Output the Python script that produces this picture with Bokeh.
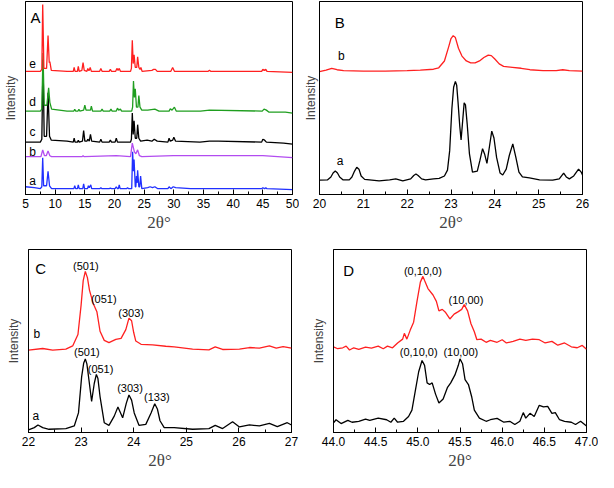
from bokeh.plotting import figure
from bokeh.layouts import column, row
from bokeh.models import Range1d, SingleIntervalTicker, FixedTicker, NumeralTickFormatter
from bokeh.core.properties import value
from bokeh.embed import file_html
from bokeh.resources import INLINE

# ---------------- Panel A data (2theta, intensity with offsets) ----------------
a_e_x = [5, 7.5, 7.75, 7.9, 8.1, 8.55, 8.8, 9.0, 9.1, 9.35, 12, 13.05, 13.2, 13.35, 13.75, 13.9, 14.05, 14.5, 14.7, 14.9,
         15.35, 15.5, 15.65, 15.75, 15.9, 16.1, 17.5, 17.7, 17.9, 19.1, 19.3, 19.5, 20.2, 20.4, 20.6, 20.8, 21.0, 22.7,
         22.85, 23.0, 23.15, 23.3, 23.5, 23.75, 23.9, 24.1, 24.3, 24.45, 24.65, 26.3, 26.6, 26.9, 27.2, 29.5, 29.8, 30.1,
         35.8, 36.0, 36.2, 44.8, 45.0, 45.25, 45.5, 45.7, 50]
a_e_y = [127, 127, 129, 196, 130, 130, 164, 136, 137, 128, 127, 127, 131, 127, 127, 132, 127, 128, 136, 128,
         127, 130, 128, 128, 131, 127, 127, 130, 127, 127, 129, 127, 127, 130, 128, 130, 127, 127,
         130, 159, 135, 144, 131, 131, 142, 131, 129, 131, 127, 128, 129, 129, 127, 127, 131, 127,
         127, 128, 127, 127, 129, 128, 129, 127, 126]

a_d_x = [5, 7.5, 7.75, 7.95, 8.15, 8.6, 8.9, 9.1, 9.4, 12, 13.15, 13.3, 13.45, 13.85, 14.0, 14.15, 14.8, 15.0, 15.2,
         15.95, 16.1, 16.3, 17.7, 17.9, 18.1, 19.2, 19.4, 19.6, 20.3, 20.5, 20.7, 21.0, 21.2, 22.9, 23.05, 23.2, 23.35,
         23.5, 23.7, 23.95, 24.1, 24.3, 24.6, 25.6, 26.8, 27.5, 29.2, 29.4, 29.7, 30.1, 30.4, 34.5, 36.0, 44.9, 45.2,
         45.6, 46.0, 48.8, 50]
a_d_y = [86, 86, 88, 146, 92, 92, 110, 95, 88, 86, 86, 88, 86, 86, 88, 86, 87, 92, 87,
         87, 91, 86, 86, 88, 86, 86, 88, 86, 86, 89, 87, 88, 86, 86, 90, 117, 100,
         109, 90, 90, 102, 90, 87, 87, 88, 86, 86, 88.5, 87, 90, 86, 86, 87, 86, 88,
         87, 85, 85, 84]

a_c_x = [5, 7.5, 7.75, 7.95, 8.15, 8.55, 8.8, 9.05, 9.35, 12, 13.05, 13.2, 13.35, 13.75, 13.9, 14.05, 14.6, 14.8, 15.0,
         15.35, 15.5, 15.75, 15.95, 16.15, 17.5, 17.7, 17.9, 19.1, 19.3, 19.5, 20.1, 20.3, 20.5, 22.7, 22.85, 23.0,
         23.15, 23.3, 23.5, 23.75, 23.9, 24.1, 24.4, 25.5, 26.3, 26.7, 27.2, 29.0, 29.2, 29.4, 29.8, 30.0, 30.3, 34.4,
         36.0, 37.5, 44.8, 45.0, 45.3, 45.6, 48.5, 50]
a_c_y = [54, 54, 57, 139, 60, 60, 105, 60, 56, 55, 54, 58, 54, 54, 56, 54, 55, 66, 55,
         55, 57, 55, 62, 55, 54, 57, 54, 54, 56, 54, 54, 58, 54, 54, 57, 84,
         62, 76, 58, 58, 72, 58, 55, 56, 55, 57, 55, 54, 58, 55, 56, 59, 55, 54,
         55, 55, 54, 57, 56, 54, 53, 52]

a_b_x = [5, 7.6, 7.9, 8.2, 8.5, 8.8, 9.1, 9.4, 14.5, 14.7, 14.9, 20.3, 22.7, 23.0, 23.35, 23.6, 23.9, 24.2, 24.6,
         29.9, 45.0, 50]
a_b_y = [39, 39, 46, 40, 40, 45, 40, 39, 39, 40, 39, 40, 39, 53, 44, 42, 46, 40, 39,
         40, 40, 38]

a_a_x = [5, 6.5, 7.5, 7.75, 7.9, 8.05, 8.55, 8.8, 9.05, 9.4, 12, 13.15, 13.3, 13.45, 13.75, 13.9, 14.05, 14.65, 14.8,
         14.95, 15.45, 15.6, 15.75, 16.0, 16.15, 17.5, 17.7, 17.9, 19.1, 19.3, 19.5, 20.1, 20.3, 20.5, 20.65, 20.8,
         20.95, 22.0, 22.2, 22.4, 22.9, 23.05, 23.2, 23.3, 23.5, 23.6, 23.7, 23.8, 23.9, 24.1, 24.25, 24.4, 24.6,
         25.6, 26.0, 26.4, 26.8, 27.3, 29.0, 29.2, 29.5, 29.9, 30.3, 32.8, 34.4, 36.0, 37.5, 44.8, 45.0, 45.3, 45.5,
         45.7, 50]
a_a_y = [8, 7, 6, 8, 38, 9, 9, 24, 9, 6, 6, 6, 9, 6, 6, 10, 6, 6, 11,
         6, 6, 9, 7, 10, 6, 6, 7, 6, 6, 6.5, 6, 6, 8, 6, 6, 10,
         6, 6, 7, 6, 6, 44, 24, 36, 8, 8, 19, 12, 25, 8, 8, 19, 6,
         7, 8, 7, 8, 6, 6, 8, 6, 8, 7, 6, 6, 6, 6, 6, 7, 6, 7,
         6, 5]

a_labels = ["e", "d", "c", "b", "a"]
a_label_x = [6.2, 6.2, 6.2, 6.2, 6.2]
a_label_y = [135, 95, 64, 44, 14]

# ---------------- Panel B data ----------------
b_b_x = [20.0, 20.15, 20.28, 20.4, 20.55, 21.0, 21.5, 22.0, 22.3, 22.6, 22.72, 22.85, 22.95, 23.0, 23.05, 23.1, 23.17,
         23.25, 23.35, 23.45, 23.55, 23.65, 23.75, 23.85, 23.92, 24.0, 24.1, 24.2, 24.4, 24.6, 24.8, 25.1, 25.4, 25.55,
         25.7, 26.0]
b_b_y = [126, 127.5, 129.5, 128, 127, 126.5, 126.5, 127, 127.5, 128.5, 130, 137, 152, 160, 163, 161, 150,
         142, 137, 135, 135, 137, 140.5, 143, 142.5, 139, 134, 131.5, 130.5, 129.5, 128, 127, 127, 128,
         127, 126.5]

b_a_x = [20.0, 20.18, 20.26, 20.31, 20.36, 20.41, 20.46, 20.54, 20.68, 20.74, 20.8, 20.85, 20.9, 20.95, 21.03, 21.36,
         21.6, 21.74, 21.9, 22.08, 22.15, 22.2, 22.25, 22.33, 22.42, 22.6, 22.73, 22.85, 22.92, 22.97, 23.02, 23.06,
         23.1, 23.13, 23.16, 23.2, 23.23, 23.26, 23.3, 23.33, 23.37, 23.42, 23.49, 23.6, 23.66, 23.72, 23.77, 23.82,
         23.88, 23.93, 23.98, 24.04, 24.12, 24.18, 24.26, 24.33, 24.41, 24.48, 24.55, 24.63, 24.79, 25.02, 25.32,
         25.47, 25.57, 25.63, 25.7, 25.8, 25.91, 25.97, 26.0]
b_a_y = [14.7, 15, 18, 22, 24, 22, 18, 15, 15, 18, 24, 28, 26, 19, 15.5, 14,
         15, 16, 14, 16, 19.5, 21, 19.5, 16, 15, 16, 16.5, 19, 25, 45, 88, 110,
         116, 112, 95, 70, 56, 72, 94, 92, 72, 42, 23, 24, 35, 47, 41, 32,
         50, 65, 58, 38, 22, 20, 26, 40, 52, 38, 23, 18, 17, 15, 14.7,
         16, 22, 18, 16, 19, 26, 23, 20]

b_labels = ["b", "a"]
b_label_x = [20.5, 20.47]
b_label_y = [142, 34]

# ---------------- Panel C data ----------------
c_b_x = [22.0, 22.27, 22.46, 22.71, 22.84, 22.94, 23.0, 23.04, 23.08, 23.12, 23.16, 23.23, 23.3, 23.36, 23.44, 23.53,
         23.66, 23.76, 23.85, 23.91, 23.96, 24.0, 24.04, 24.14, 24.36, 24.61, 24.77, 25.12, 25.43, 25.55, 25.69,
         26.01, 26.2, 26.39, 26.58, 26.71, 26.84, 27.0]
c_b_y = [84, 85.7, 84, 85, 88.3, 100, 130, 155, 164.3, 158, 145, 131.7, 123.3, 103.3, 94, 91.7,
         95, 96, 105, 116.7, 114, 102, 93.3, 90, 89.3, 88, 87.3, 85, 84.3, 87.3, 84.7,
         85, 86.7, 86, 88.3, 86, 87.7, 86]

c_a_x = [22.0, 22.11, 22.18, 22.27, 22.39, 22.71, 22.87, 22.95, 23.01, 23.05, 23.08, 23.11, 23.15, 23.2, 23.25, 23.29,
         23.32, 23.36, 23.44, 23.53, 23.63, 23.7, 23.79, 23.86, 23.91, 23.96, 24.01, 24.1, 24.23, 24.33, 24.4, 24.45,
         24.5, 24.58, 24.77, 25.12, 25.43, 25.55, 25.69, 25.88, 26.01, 26.2, 26.39, 26.58, 26.73, 26.92, 27.0]
c_a_y = [2.7, 5, 7.7, 5, 3.3, 4, 6.7, 20, 56.7, 71, 75, 70, 53.3, 31.7, 50, 59.3,
         55, 36.7, 10, 7.3, 16.7, 26, 15, 30, 38.3, 33, 20, 7.3, 8.3, 20, 29.3, 24,
         12, 5, 5, 3.3, 4, 7.3, 4, 11, 5.7, 7.7, 6.7, 9.3, 6, 10, 7.7]

c_peak_labels = ["(501)", "(051)", "(303)", "(501)", "(051)", "(303)", "(133)"]
c_peak_x = [23.09, 23.43, 23.95, 23.11, 23.37, 23.93, 24.44]
c_peak_y = [170, 136, 121.7, 81.7, 65, 45, 36]
c_labels = ["b", "a"]
c_label_x = [22.16, 22.14]
c_label_y = [100.7, 17.3]

# ---------------- Panel D data ----------------
d_b_x = [44.0, 44.05, 44.11, 44.15, 44.19, 44.24, 44.3, 44.38, 44.45, 44.53, 44.59, 44.64, 44.7, 44.76, 44.82, 44.84,
         44.87, 44.91, 44.95, 44.99, 45.03, 45.06, 45.08, 45.12, 45.18, 45.22, 45.25, 45.29, 45.33, 45.38, 45.43,
         45.48, 45.52, 45.55, 45.59, 45.63, 45.67, 45.7, 45.75, 45.81, 45.86, 45.94, 46.0, 46.05, 46.13, 46.21,
         46.28, 46.36, 46.44, 46.51, 46.59, 46.66, 46.74, 46.82, 46.89, 46.95, 47.0]
d_b_y = [89.3, 87.3, 88.3, 90, 86, 88.3, 86.7, 89, 88, 90, 87.3, 90, 88.3, 93.3, 97.3, 103.3,
         97.3, 106.7, 115, 136.7, 156.7, 162.7, 158.3, 150, 143.3, 136.7, 126.7, 128.3, 125, 118.3, 123.3,
         126, 128.3, 133.3, 126.7, 113.3, 105, 96.7, 97.3, 94, 96, 94, 96.7, 93.3, 95, 97.3,
         96, 97.3, 96.7, 93.3, 95, 91, 93.3, 89.3, 88.3, 90.7, 86.7]

d_a_x = [44.0, 44.03, 44.09, 44.17, 44.22, 44.3, 44.38, 44.43, 44.53, 44.63, 44.68, 44.72, 44.76, 44.83, 44.89, 44.93,
         44.97, 45.01, 45.05, 45.08, 45.11, 45.14, 45.17, 45.21, 45.25, 45.3, 45.35, 45.39, 45.44, 45.48, 45.5,
         45.53, 45.56, 45.6, 45.64, 45.67, 45.73, 45.81, 45.86, 45.94, 46.02, 46.09, 46.15, 46.21, 46.25, 46.28,
         46.33, 46.38, 46.44, 46.49, 46.54, 46.59, 46.63, 46.68, 46.74, 46.82, 46.87, 46.93, 47.0]
d_a_y = [10, 13.3, 9.3, 12.7, 10.7, 11.7, 14, 12.7, 15, 13.3, 10.7, 15, 10.7, 11.7, 16.7, 23.3,
         43.3, 63.3, 75, 70, 51.7, 50, 51.7, 40, 30.7, 35, 46.7, 51.7, 60, 70, 76.7,
         71.7, 55, 50, 36.7, 23.3, 15, 11.7, 13.3, 14.7, 10.7, 11.7, 8.3, 11.7, 20.7, 15,
         20, 16.7, 28.3, 26.7, 27.3, 20, 20.7, 13.3, 11.7, 10.7, 8.3, 11.7, 6.7]

d_peak_labels = ["(0,10,0)", "(10,00)", "(0,10,0)", "(10,00)"]
d_peak_x = [45.06, 45.57, 45.01, 45.51]
d_peak_y = [168.3, 138.3, 84, 84]

panel_letters = ["A", "B", "C", "D"]

RED = "#ff2020"
GREEN = "#1f9e1f"
BLACK = "#000000"
VIOLET = "#b24cf0"
BLUE = "#2030ff"

SANS = "Liberation Sans"
SERIF = "Liberation Serif"


def make_panel(w, h, xr, yr, bl, br, bt, bb, interval, fmt=None, ystandoff=8):
    p = figure(width=w, height=h, x_range=Range1d(*xr), y_range=Range1d(*yr),
               output_backend="svg", toolbar_location=None,
               min_border_left=bl, min_border_right=br, min_border_top=bt, min_border_bottom=bb)
    p.xgrid.visible = False
    p.ygrid.visible = False
    p.outline_line_color = "black"
    p.outline_line_width = 1
    p.outline_line_alpha = 1.0
    p.xaxis.ticker = SingleIntervalTicker(interval=interval, num_minor_ticks=2)
    if fmt:
        p.xaxis.formatter = NumeralTickFormatter(format=fmt)
    p.xaxis.major_tick_in = 5
    p.xaxis.major_tick_out = 0
    p.xaxis.minor_tick_in = 3
    p.xaxis.minor_tick_out = 0
    p.xaxis.major_label_standoff = 4
    p.xaxis.major_label_text_font = SANS
    p.xaxis.major_label_text_font_size = "12px"
    p.xaxis.major_label_text_color = "black"
    p.xaxis.axis_label = "2θ°"
    p.xaxis.axis_label_text_font = SERIF
    p.xaxis.axis_label_text_font_style = "normal"
    p.xaxis.axis_label_text_font_size = "17px"
    p.xaxis.axis_label_text_line_height = 1.0
    p.xaxis.axis_label_standoff = 2
    p.xaxis.axis_line_color = "black"
    p.xaxis.major_tick_line_color = "black"
    p.xaxis.minor_tick_line_color = "black"
    p.yaxis.ticker = FixedTicker(ticks=[])
    p.yaxis.major_tick_line_color = None
    p.yaxis.minor_tick_line_color = None
    p.yaxis.major_label_text_font_size = "0px"
    p.yaxis.axis_label = "Intensity"
    p.yaxis.axis_label_text_font = SANS
    p.yaxis.axis_label_text_font_style = "normal"
    p.yaxis.axis_label_text_font_size = "12px"
    p.yaxis.axis_label_standoff = ystandoff
    p.yaxis.axis_line_color = "black"
    return p


def add_text(p, xs, ys, texts, size):
    p.text(x=xs, y=ys, text=texts, text_font=value(SANS), text_font_size=size,
           text_align="center", text_baseline="middle", text_color="black")


LW = 1.3
TOP_H = 234
BOT_H = 238

# Panel A
pA = make_panel(299, TOP_H, (5, 50), (0, 199), 21, 7, 1, 10, 5, ystandoff=8)
pA.line(a_a_x, a_a_y, color=BLUE, line_width=LW)
pA.line(a_b_x, a_b_y, color=VIOLET, line_width=LW)
pA.line(a_c_x, a_c_y, color=BLACK, line_width=LW)
pA.line(a_d_x, a_d_y, color=GREEN, line_width=LW)
pA.line(a_e_x, a_e_y, color=RED, line_width=LW)
add_text(pA, a_label_x, a_label_y, a_labels, "12px")
add_text(pA, [6.7], [182], [panel_letters[0]], "15px")

# Panel B
pB = make_panel(299, TOP_H, (20, 26), (0, 198), 20, 16, 1, 10, 1, ystandoff=2)
pB.line(b_b_x, b_b_y, color=RED, line_width=LW)
pB.line(b_a_x, b_a_y, color=BLACK, line_width=LW)
add_text(pB, b_label_x, b_label_y, b_labels, "12px")
add_text(pB, [20.46], [176], [panel_letters[1]], "15px")

# Panel C
pC = make_panel(299, BOT_H, (22, 27), (0, 186.7), 28, 8, 15, 10, 1, ystandoff=8)
pC.line(c_b_x, c_b_y, color=RED, line_width=LW)
pC.line(c_a_x, c_a_y, color=BLACK, line_width=LW)
add_text(pC, c_peak_x, c_peak_y, c_peak_labels, "11px")
add_text(pC, c_label_x, c_label_y, c_labels, "12px")
add_text(pC, [22.23], [167.7], [panel_letters[2]], "15px")

# Panel D
pD = make_panel(299, BOT_H, (44, 47), (0, 190.7), 34, 12, 15, 10, 0.5, fmt="0.0", ystandoff=8)
pD.line(d_b_x, d_b_y, color=RED, line_width=LW)
pD.line(d_a_x, d_a_y, color=BLACK, line_width=LW)
add_text(pD, d_peak_x, d_peak_y, d_peak_labels, "11px")
add_text(pD, [44.18], [169], [panel_letters[3]], "15px")

layout = column(row(pA, pB), row(pC, pD))
open("out.html", "w").write(file_html(layout, INLINE))
